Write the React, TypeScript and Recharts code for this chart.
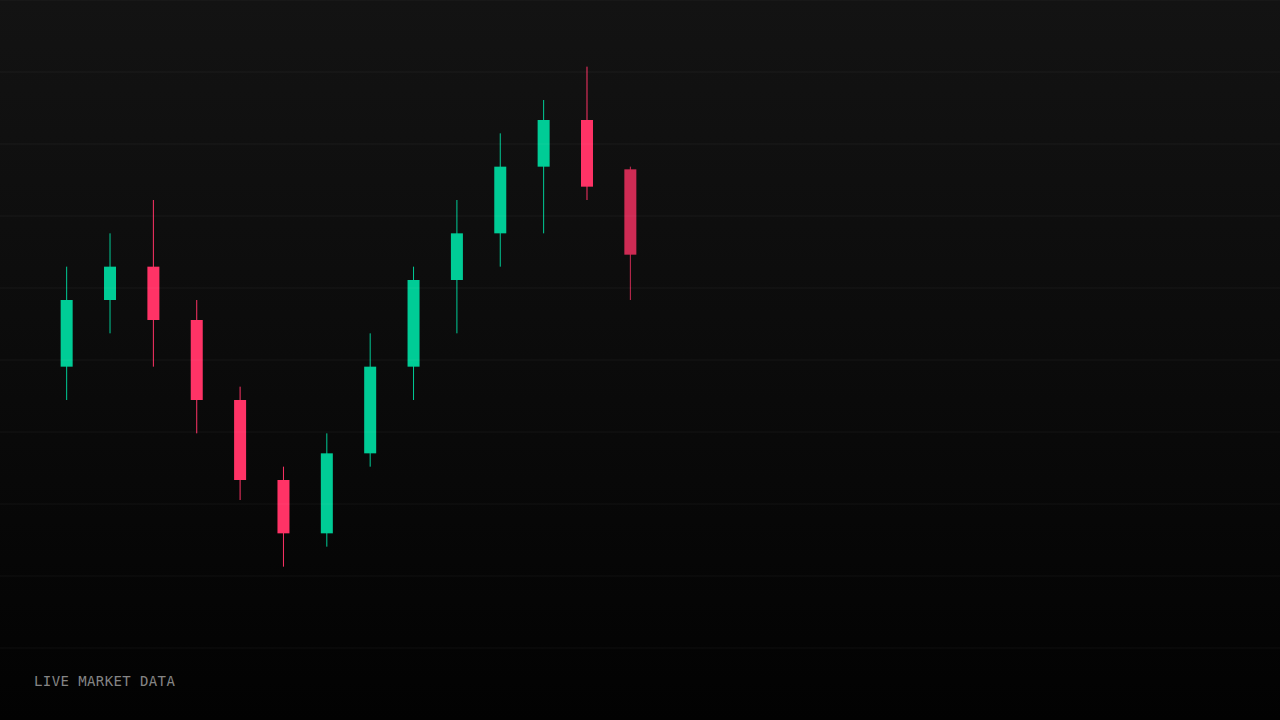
import React from 'react';
import { Bar, ComposedChart, ReferenceLine, XAxis, YAxis } from 'recharts';

// candles, oldest first; the last one is still forming
const opens = [95, 105, 110, 102, 90, 78, 70, 82, 95, 108, 115, 125, 132, 124.6];
const highs = [110, 115, 120, 105, 92, 80, 85, 100, 110, 120, 130, 135, 140, 125];
const lows = [90, 100, 95, 85, 75, 65, 68, 80, 90, 100, 110, 115, 120, 105];
const closes = [105, 110, 102, 90, 78, 70, 82, 95, 108, 115, 125, 132, 122, 111.8];
const gridTicks = [1, 2, 3, 4, 5, 6, 7, 8, 9, 10];

const UP = '#00cc96';
const DOWN = '#ff3366';

const data = opens.map((open, i) => ({
    i,
    open,
    high: highs[i],
    low: lows[i],
    close: closes[i],
    live: i === opens.length - 1,
}));

const Candle = (props: any) => {
    const { x, y, width, height, payload } = props;
    const { open, close, high, low } = payload;
    const top = Math.min(y, y + height);
    const h = Math.abs(height);
    const perUnit = h / (high - low);
    const bodyTop = top + (high - Math.max(open, close)) * perUnit;
    const bodyH = Math.max(1, Math.abs(open - close) * perUnit);
    const color = close >= open ? UP : DOWN;
    const cx = x + width / 2;
    return (
        <g opacity={payload.live ? 0.8 : 1}>
            <line x1={cx} x2={cx} y1={top} y2={top + h} stroke={color} strokeWidth={1} />
            <rect x={x} y={bodyTop} width={width} height={bodyH} fill={color} />
        </g>
    );
};

export default function App() {
    return (
        <div
            style={{
                position: 'fixed',
                inset: 0,
                width: 1280,
                height: 720,
                background: 'linear-gradient(180deg, #131313 0%, #0b0b0b 50%, #020202 100%)',
                overflow: 'hidden',
            }}
        >
            <ComposedChart width={1280} height={720} data={data} margin={{ top: 0, right: 0, bottom: 0, left: 0 }}>
                <XAxis dataKey="i" type="number" domain={[-1.53, 27.99]} hide allowDataOverflow />
                <YAxis yAxisId="price" domain={[42, 150]} hide allowDataOverflow />
                <YAxis yAxisId="grid" domain={[0, 10]} hide />
                {/* faint horizontal guides every tenth of the height */}
                {gridTicks.map((t) => (
                    <ReferenceLine
                        key={t}
                        yAxisId="grid"
                        y={t}
                        stroke="rgba(255,255,255,0.035)"
                        strokeWidth={1.5}
                        ifOverflow="extendDomain"
                    />
                ))}
                <Bar
                    yAxisId="price"
                    dataKey={(d: any) => [d.low, d.high]}
                    barSize={12}
                    shape={<Candle />}
                    isAnimationActive={false}
                />
            </ComposedChart>
            <div
                style={{
                    position: 'absolute',
                    left: 34,
                    top: 673,
                    fontFamily: '"DejaVu Sans Mono", monospace',
                    fontSize: 14,
                    letterSpacing: 0.4,
                    color: '#858585',
                }}
            >
                LIVE MARKET DATA
            </div>
        </div>
    );
}
